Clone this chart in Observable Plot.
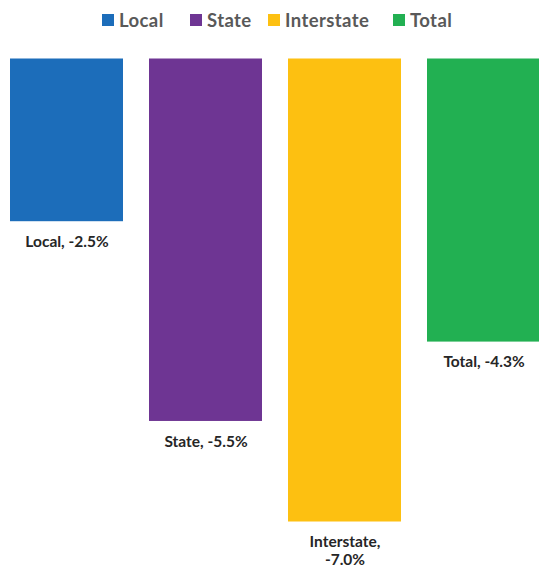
<!DOCTYPE html>
<html>
<head>
<meta charset="utf-8">
<script src="https://cdn.jsdelivr.net/npm/d3@7"></script>
<script src="https://cdn.jsdelivr.net/npm/@observablehq/plot@0.6"></script>
<style>
  html, body { margin: 0; padding: 0; background: #fff; overflow: hidden; width: 539px; height: 565px; }
  #legend { height: 40px; position: relative; font-family: Lato, "Open Sans", sans-serif; font-weight: bold; font-size: 18.5px; letter-spacing: 0.4px; color: #595959; }
  .item { position: absolute; top: 9px; display: flex; align-items: center; white-space: nowrap; }
  .sw { width: 12px; height: 12px; margin-right: 5px; display: inline-block; }
  #chart svg { display: block; }
</style>
</head>
<body>
<div id="legend"></div>
<div id="chart"></div>
<script>
const categories = ["Local", "State", "Interstate", "Total"];
const values = [-2.46, -5.48, -7.0, -4.28];
const colors = ["#1C6DBA", "#6E3593", "#FDC011", "#22B052"];

const data = categories.map((c, i) => ({category: c, value: values[i]}));

// legend
const legendX = [102, 190, 268, 393];
const legend = document.getElementById("legend");
categories.forEach((c, i) => {
  const item = document.createElement("div");
  item.className = "item";
  item.style.left = legendX[i] + "px";
  const sw = document.createElement("span");
  sw.className = "sw";
  sw.style.background = colors[i];
  item.appendChild(sw);
  item.appendChild(document.createTextNode(c));
  legend.appendChild(item);
});

const chart = Plot.plot({
  width: 539,
  height: 525,
  margin: 0,
  style: {background: "#fff", overflow: "hidden"},
  x: {domain: categories, range: [9, 541], paddingInner: 0.19, paddingOuter: 0, axis: null},
  y: {domain: [0, -7], range: [18.5, 481.5], axis: null},
  color: {domain: categories, range: colors},
  marks: [
    Plot.barY(data, {x: "category", y: "value", fill: "category"}),
    Plot.text(data, {
      x: "category",
      y: "value",
      text: d => d.category === "Interstate" ? `${d.category},\n${d.value.toFixed(1)}%` : `${d.category}, ${d.value.toFixed(1)}%`,
      lineAnchor: "top",
      dy: 13,
      fontSize: 15.5,
      fontWeight: "bold",
      fontFamily: "Lato, 'Open Sans', sans-serif",
      fill: "#262626",
      lineHeight: 1.12
    })
  ]
});
document.getElementById("chart").appendChild(chart);
</script>
</body>
</html>
